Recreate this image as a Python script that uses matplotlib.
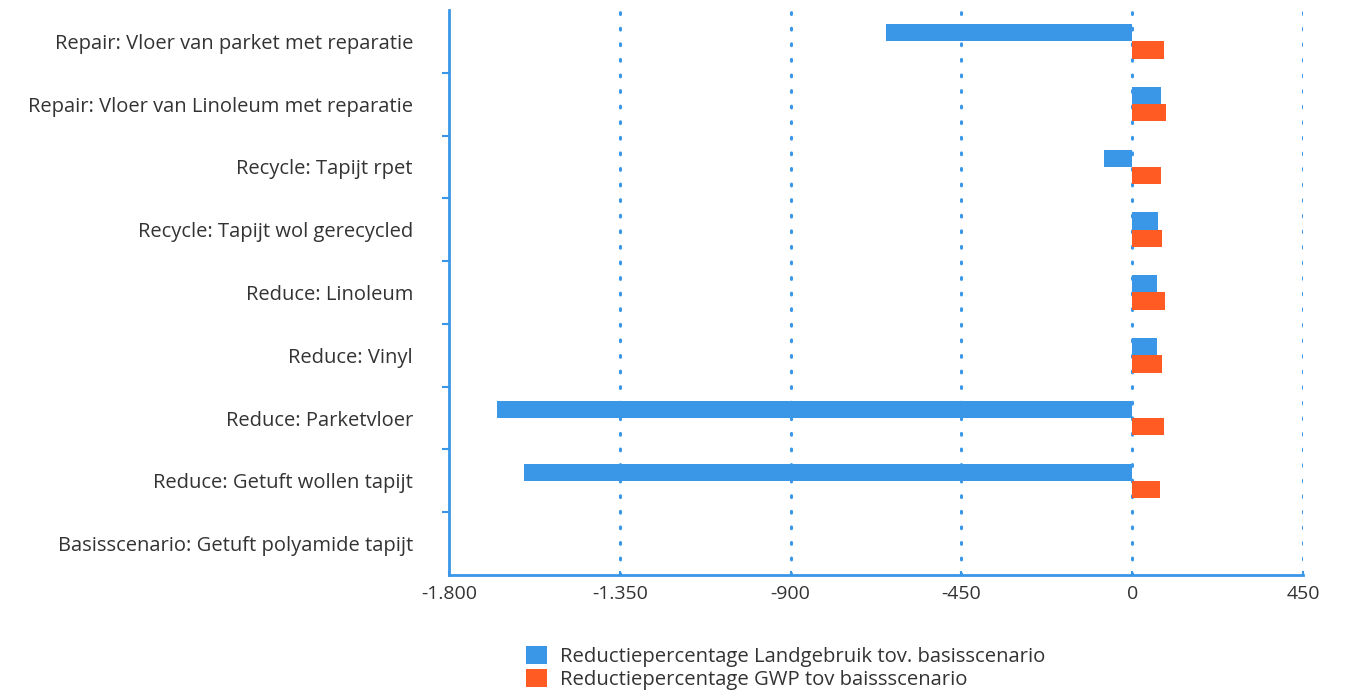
import matplotlib
matplotlib.use("Agg")
import matplotlib.pyplot as plt
import numpy as np
from matplotlib.ticker import FixedLocator, FuncFormatter
from matplotlib.patches import Patch

categories = [
    "Repair: Vloer van parket met reparatie",
    "Repair: Vloer van Linoleum met reparatie",
    "Recycle: Tapijt rpet",
    "Recycle: Tapijt wol gerecycled",
    "Reduce: Linoleum",
    "Reduce: Vinyl",
    "Reduce: Parketvloer",
    "Reduce: Getuft wollen tapijt",
    "Basisscenario: Getuft polyamide tapijt",
]
landgebruik = [-648, 76, -74, 68, 66, 66, -1673, -1602, 0]
gwp = [84, 90, 76, 79, 87, 79, 84, 74, 0]
series_names = ["Reductiepercentage Landgebruik tov. basisscenario",
                "Reductiepercentage GWP tov baissscenario"]
xticks = [-1800, -1350, -900, -450, 0, 450]

BLUE = "#3a97e8"
ORANGE = "#ff5b22"
TEXT = "#333333"

plt.rcParams['font.family'] = ['Open Sans', 'DejaVu Sans']

fig = plt.figure(figsize=(13.57, 6.92), dpi=100)
ax = fig.add_axes([449/1357, 1-575/692, (1303-449)/1357, (575-10)/692])

n = len(categories)
y = np.arange(n)
h = 0.275
ax.barh(y - h/2, landgebruik, height=h, color=BLUE, zorder=3)
ax.barh(y + h/2, gwp, height=h, color=ORANGE, zorder=3)

ax.set_xlim(-1800, 450)
ax.set_ylim(n - 0.5, -0.5)

ax.xaxis.set_major_locator(FixedLocator(xticks))
ax.xaxis.set_major_formatter(FuncFormatter(lambda v, p: f"{int(v):,}".replace(",", ".")))
ax.tick_params(axis='x', direction='in', length=3, width=1.5, color=BLUE,
               labelsize=14, labelcolor=TEXT, pad=7)

ax.set_yticks(y)
ax.set_yticklabels(categories)
ax.set_yticks(np.arange(n - 1) + 0.5, minor=True)
ax.tick_params(axis='y', which='major', length=0, pad=26, labelsize=14.5, labelcolor=TEXT)
ax.tick_params(axis='y', which='minor', direction='out', length=5, width=1.5, color=BLUE)

for xv in xticks[1:]:
    ax.axvline(xv, color=BLUE, linestyle=(0, (0.6, 4.5)), linewidth=2.2,
               dash_capstyle='round', zorder=1)

for s in ['top', 'right']:
    ax.spines[s].set_visible(False)
for s in ['left', 'bottom']:
    ax.spines[s].set_color(BLUE)
    ax.spines[s].set_linewidth(2)

handles = [Patch(facecolor=BLUE), Patch(facecolor=ORANGE)]
fig.legend(handles, series_names, loc='upper left', bbox_to_anchor=(518/1357, 1-638/692),
           frameon=False, fontsize=14.6, labelcolor=TEXT, handlelength=1.05, handleheight=0.95,
           handletextpad=0.6, labelspacing=0.12, borderaxespad=0)

fig.savefig("out.png", dpi=100)
